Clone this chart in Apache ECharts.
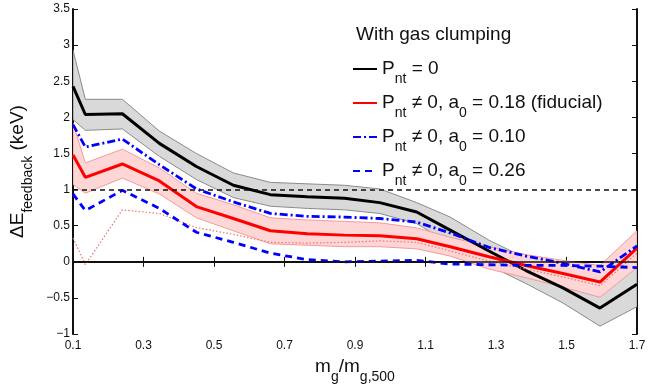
<!DOCTYPE html>
<html>
<head>
<meta charset="utf-8">
<script src="https://cdn.jsdelivr.net/npm/echarts@6/dist/echarts.min.js"></script>
<style>
  html, body { margin: 0; padding: 0; background: #fff; }
  #chart { width: 656px; height: 389px; }
</style>
</head>
<body>
<div id="chart"></div>
<script>
// m_g / m_g,500 bin positions
const xVals = [0.1, 0.135, 0.24, 0.345, 0.45, 0.555, 0.66, 0.765, 0.87, 0.97, 1.075, 1.17, 1.28, 1.385, 1.49, 1.595, 1.7];

// P_nt = 0 (black) and its grey band
const noNT = [2.43, 2.04, 2.05, 1.64, 1.32, 1.06, 0.93, 0.90, 0.88, 0.82, 0.69, 0.44, 0.15, -0.12, -0.36, -0.64, -0.31];
const noNTHigh = [2.93, 2.25, 2.25, 1.81, 1.50, 1.23, 1.10, 1.08, 1.06, 1.01, 0.82, 0.62, 0.30, 0.05, -0.15, -0.42, -0.02];
const noNTLow = [1.97, 1.82, 1.84, 1.46, 1.14, 0.89, 0.77, 0.74, 0.72, 0.67, 0.53, 0.25, -0.05, -0.30, -0.57, -0.89, -0.62];

// fiducial a0 = 0.18 (red) and its pink band
const fid = [1.48, 1.17, 1.355, 1.12, 0.765, 0.60, 0.43, 0.39, 0.37, 0.36, 0.32, 0.21, 0.07, -0.05, -0.16, -0.28, 0.19];
const fidHigh = [1.92, 1.37, 1.56, 1.30, 0.95, 0.79, 0.61, 0.58, 0.56, 0.54, 0.47, 0.34, 0.21, 0.10, 0.02, -0.05, 0.43];
const fidLow = [1.07, 0.95, 1.16, 0.94, 0.61, 0.43, 0.25, 0.23, 0.21, 0.21, 0.18, 0.08, -0.10, -0.22, -0.35, -0.49, -0.08];

// thin dotted red curve (not in legend)
const fidDotted = [0.33, -0.04, 0.72, 0.67, 0.475, 0.38, 0.27, 0.26, 0.27, 0.29, 0.27, 0.15, 0.01, -0.10, -0.21, -0.33, 0.12];

// a0 = 0.10 (blue dash-dot) and a0 = 0.26 (blue dashed)
const a010 = [1.90, 1.59, 1.70, 1.345, 1.01, 0.83, 0.67, 0.63, 0.62, 0.60, 0.55, 0.40, 0.20, 0.08, -0.02, -0.14, 0.22];
const a026 = [0.94, 0.71, 0.99, 0.74, 0.41, 0.27, 0.12, 0.03, 0.0, 0.01, 0.02, -0.03, -0.04, -0.05, -0.05, -0.06, -0.08];

const refLevels = [1, 0];

const legendNames = ['noNT', 'fid', 'a010', 'a026'];
const legendLabels = {
    noNT: '{b|P}{sub|nt}{b| = 0}',
    fid: '{b|P}{sub|nt}{b| \u2260 0, a}{sub|0}{b| = 0.18 (fiducial)}',
    a010: '{b|P}{sub|nt}{b| \u2260 0, a}{sub|0}{b| = 0.10}',
    a026: '{b|P}{sub|nt}{b| \u2260 0, a}{sub|0}{b| = 0.26}'
};

const pairs = arr => xVals.map((x, i) => [x, arr[i]]);

const FONT = 'Liberation Sans, Arial, sans-serif';
const richText = {
    b: {fontSize: 19, lineHeight: 20, verticalAlign: 'top', color: '#111', fontFamily: FONT},
    sub: {fontSize: 14, lineHeight: 14, padding: [13, 0, 0, 0], verticalAlign: 'top', color: '#111', fontFamily: FONT}
};

// band polygon: upper edge left to right, then lower edge back
function bandSeries(hi, lo, fill, stroke) {
    return {
        type: 'custom',
        silent: true,
        clip: true,
        data: [0],
        renderItem: (params, api) => {
            const pts = [];
            xVals.forEach((x, i) => pts.push(api.coord([x, hi[i]])));
            for (let i = xVals.length - 1; i >= 0; i--) pts.push(api.coord([xVals[i], lo[i]]));
            return {
                type: 'polygon',
                shape: {points: pts},
                style: {fill: fill, stroke: stroke, lineWidth: 1}
            };
        }
    };
}

const chart = echarts.init(document.getElementById('chart'));

const noSymbol = {color: 'rgba(0,0,0,0)'};

const option = {
    animation: false,
    title: {
        text: 'With gas clumping',
        left: 351,
        top: 20,
        textStyle: {fontSize: 19, fontWeight: 'normal', color: '#111', fontFamily: FONT}
    },
    legend: {
        data: legendNames,
        orient: 'vertical',
        left: 347,
        top: 54,
        itemWidth: 24,
        itemHeight: 14,
        itemGap: 7,
        formatter: name => legendLabels[name],
        textStyle: {rich: richText}
    },
    grid: {left: 73, right: 19, top: 9, bottom: 44},
    xAxis: [
        {
            type: 'value',
            min: 0.1,
            max: 1.7,
            interval: 0.2,
            name: '{b|m}{sub|g}{b|/m}{sub|g,500}',
            nameLocation: 'middle',
            nameGap: 18,
            nameTextStyle: {rich: richText},
            axisLine: {lineStyle: {color: '#111', width: 2}},
            axisTick: {inside: true, length: 5, lineStyle: {color: '#111'}},
            axisLabel: {margin: 6, fontSize: 12, color: '#111', fontFamily: FONT},
            splitLine: {show: false}
        },
        {
            type: 'value',
            position: 'top',
            min: 0.1,
            max: 1.7,
            interval: 0.2,
            axisLine: {lineStyle: {color: '#111', width: 2}},
            axisTick: {inside: true, length: 5, lineStyle: {color: '#111'}},
            axisLabel: {show: false},
            splitLine: {show: false}
        }
    ],
    yAxis: [
        {
            type: 'value',
            min: -1,
            max: 3.5,
            interval: 0.5,
            name: '{b|\u0394E}{sub|feedback}{b| (keV)}',
            nameLocation: 'middle',
            nameRotate: 90,
            nameGap: 22,
            nameTextStyle: {rich: richText},
            axisLine: {show: true, lineStyle: {color: '#111', width: 2}},
            axisTick: {show: true, inside: true, length: 5, lineStyle: {color: '#111'}},
            axisLabel: {
                margin: 3,
                fontSize: 12,
                color: '#111',
                fontFamily: FONT,
                formatter: v => (v < 0 ? '\u2212' + (-v) : String(v))
            },
            splitLine: {show: false}
        },
        {
            type: 'value',
            position: 'right',
            min: -1,
            max: 3.5,
            interval: 0.5,
            axisLine: {show: true, lineStyle: {color: '#111', width: 2}},
            axisTick: {show: true, inside: true, length: 5, lineStyle: {color: '#111'}},
            axisLabel: {show: false},
            splitLine: {show: false}
        }
    ],
    series: [
        bandSeries(noNTHigh, noNTLow, '#d9d9d9', '#8a8a8a'),
        bandSeries(fidHigh, fidLow, '#ffd6d6', '#f39a9a'),
        // reference lines
        {
            name: 'ref', type: 'line', data: [], symbol: 'none', silent: true,
            markLine: {
                symbol: 'none',
                silent: true,
                label: {show: false},
                data: [
                    {yAxis: refLevels[0], lineStyle: {color: '#111', width: 1.5, type: [5, 4]}},
                    {yAxis: refLevels[1], lineStyle: {color: '#111', width: 1.5, type: 'solid'}}
                ]
            }
        },
        {
            name: 'noNT', type: 'line', data: pairs(noNT), symbol: 'none',
            itemStyle: noSymbol, lineStyle: {color: '#000', width: 3}
        },
        {
            name: 'dotted', type: 'line', data: pairs(fidDotted), symbol: 'none', silent: true,
            lineStyle: {color: '#f07070', width: 1.2, type: [1.5, 2]}
        },
        {
            name: 'fid', type: 'line', data: pairs(fid), symbol: 'none',
            itemStyle: noSymbol, lineStyle: {color: '#ff0000', width: 3}
        },
        {
            name: 'a010', type: 'line', data: pairs(a010), symbol: 'none',
            itemStyle: noSymbol, lineStyle: {color: '#0000ff', width: 2.8, type: [8, 3, 2, 3]}
        },
        {
            name: 'a026', type: 'line', data: pairs(a026), symbol: 'none',
            itemStyle: noSymbol, lineStyle: {color: '#0000ff', width: 2.8, type: [7, 5]}
        }
    ]
};

chart.setOption(option);
</script>
</body>
</html>
